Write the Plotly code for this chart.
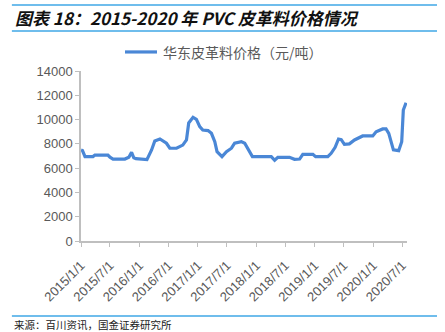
import plotly.graph_objects as go

# East China PVC leather-grade price, yuan/ton
dates = [
    "2015-01-01", "2015-01-10", "2015-01-26", "2015-03-17", "2015-03-29", "2015-06-18",
    "2015-07-01", "2015-07-20", "2015-10-02", "2015-10-27", "2015-11-13", "2015-11-27",
    "2015-12-10", "2016-02-17", "2016-03-17", "2016-04-06", "2016-05-08", "2016-06-18",
    "2016-07-09", "2016-08-20", "2016-09-28", "2016-10-21", "2016-11-04", "2016-12-01",
    "2016-12-22", "2017-01-12", "2017-01-31", "2017-03-05", "2017-03-26", "2017-04-16",
    "2017-04-30", "2017-05-31", "2017-06-28", "2017-07-29", "2017-08-18", "2017-09-29",
    "2017-10-20", "2017-11-09", "2017-12-07", "2018-04-04", "2018-04-25", "2018-05-15",
    "2018-07-27", "2018-08-27", "2018-09-28", "2018-10-18", "2018-12-20", "2019-01-06",
    "2019-03-23", "2019-04-13", "2019-05-08", "2019-05-29", "2019-06-15", "2019-07-05",
    "2019-08-05", "2019-09-06", "2019-10-27", "2019-12-29", "2020-01-19", "2020-02-29",
    "2020-03-21", "2020-04-07", "2020-04-22", "2020-05-06", "2020-06-08", "2020-06-27",
    "2020-07-07", "2020-07-24",
]
prices = [
    7500, 7450, 6950, 6950, 7080, 7080,
    6900, 6750, 6750, 6900, 7300, 6850,
    6780, 6700, 7500, 8240, 8400, 8050,
    7640, 7640, 7900, 8320, 9720, 10190,
    10020, 9420, 9140, 9090, 8870, 8180,
    7360, 6950, 7360, 7640, 8050, 8180,
    8050, 7640, 6950, 6950, 6650, 6890,
    6890, 6730, 6750, 7140, 7140, 6950,
    6950, 7220, 7720, 8400, 8350, 7960,
    8000, 8320, 8650, 8650, 9000, 9230,
    9230, 8870, 8180, 7500, 7440, 8180,
    10790, 11390,
]

tick_dates = ["2015-01-01", "2015-07-01", "2016-01-01", "2016-07-01", "2017-01-01",
              "2017-07-01", "2018-01-01", "2018-07-01", "2019-01-01", "2019-07-01",
              "2020-01-01", "2020-07-01"]
tick_labels = ["2015/1/1", "2015/7/1", "2016/1/1", "2016/7/1", "2017/1/1", "2017/7/1",
               "2018/1/1", "2018/7/1", "2019/1/1", "2019/7/1", "2020/1/1", "2020/7/1"]
y_ticks = [0, 2000, 4000, 6000, 8000, 10000, 12000, 14000]
y_labels = [str(v) for v in y_ticks]

title_text = "<b><i>图表 18：2015-2020 年 PVC 皮革料价格情况</i></b>"
legend_text = "华东皮革料价格（元/吨）"
source_text = "来源：百川资讯，国金证券研究所"

LINE_BLUE = "#4a87d6"
RULE_BLUE = "#3fa7e6"
AXIS_GREY = "#bfbfbf"
TEXT_GREY = "#595959"
CJK = "Noto Sans CJK SC"

fig = go.Figure()
fig.add_trace(go.Scatter(
    x=dates, y=prices, mode="lines",
    line=dict(color=LINE_BLUE, width=3.2, shape="linear"),
    showlegend=False, hoverinfo="x+y",
))

fig.update_layout(
    width=445, height=332,
    margin=dict(l=81, r=38, t=71, b=91),
    paper_bgcolor="white", plot_bgcolor="white",
    xaxis=dict(
        type="date",
        range=["2015-01-01", "2020-07-30"],
        tickvals=tick_dates, ticktext=tick_labels,
        tickangle=-45,
        ticklabelstandoff=6,
        tickfont=dict(family="Liberation Sans, Arial", size=13, color=TEXT_GREY),
        showgrid=False, zeroline=False,
        showline=True, linecolor=AXIS_GREY, linewidth=1.5,
        ticks="outside", ticklen=4, tickcolor=AXIS_GREY, tickwidth=1,
    ),
    yaxis=dict(
        range=[0, 14000],
        tickvals=y_ticks, ticktext=y_labels,
        tickfont=dict(family="Liberation Sans, Arial", size=13, color=TEXT_GREY),
        showgrid=False, zeroline=False,
        showline=True, linecolor=AXIS_GREY, linewidth=1.5,
        ticks="outside", ticklen=4, tickcolor=AXIS_GREY, tickwidth=1,
    ),
)

# Header rules and title
for yv in (1.388, 1.235):
    fig.add_shape(type="line", xref="paper", yref="paper",
                  x0=-0.212, x1=1.092, y0=yv, y1=yv,
                  line=dict(color=RULE_BLUE, width=1.5))
fig.add_annotation(text=title_text, xref="paper", yref="paper",
                   x=-0.208, y=1.312, xanchor="left", yanchor="middle",
                   showarrow=False,
                   font=dict(family=CJK, size=17, color="#111111"))

# Legend: sample line plus label
fig.add_shape(type="line", xref="paper", yref="paper",
              x0=(125 - 81) / 326, x1=(157 - 81) / 326, y0=1.112, y1=1.112,
              line=dict(color=LINE_BLUE, width=3.2))
fig.add_annotation(text=legend_text, xref="paper", yref="paper",
                   x=(161 - 81) / 326, y=1.112, xanchor="left", yanchor="middle",
                   showarrow=False,
                   font=dict(family=CJK, size=14, color=TEXT_GREY))

# Footer rule and source note
fig.add_shape(type="line", xref="paper", yref="paper",
              x0=-0.212, x1=1.092, y0=-0.441, y1=-0.441,
              line=dict(color=RULE_BLUE, width=1.5))
fig.add_annotation(text=source_text, xref="paper", yref="paper",
                   x=-0.208, y=-0.542, xanchor="left", yanchor="bottom",
                   showarrow=False, borderpad=0,
                   font=dict(family=CJK, size=10.5, color="#222222"))

fig.write_html("out.html")
